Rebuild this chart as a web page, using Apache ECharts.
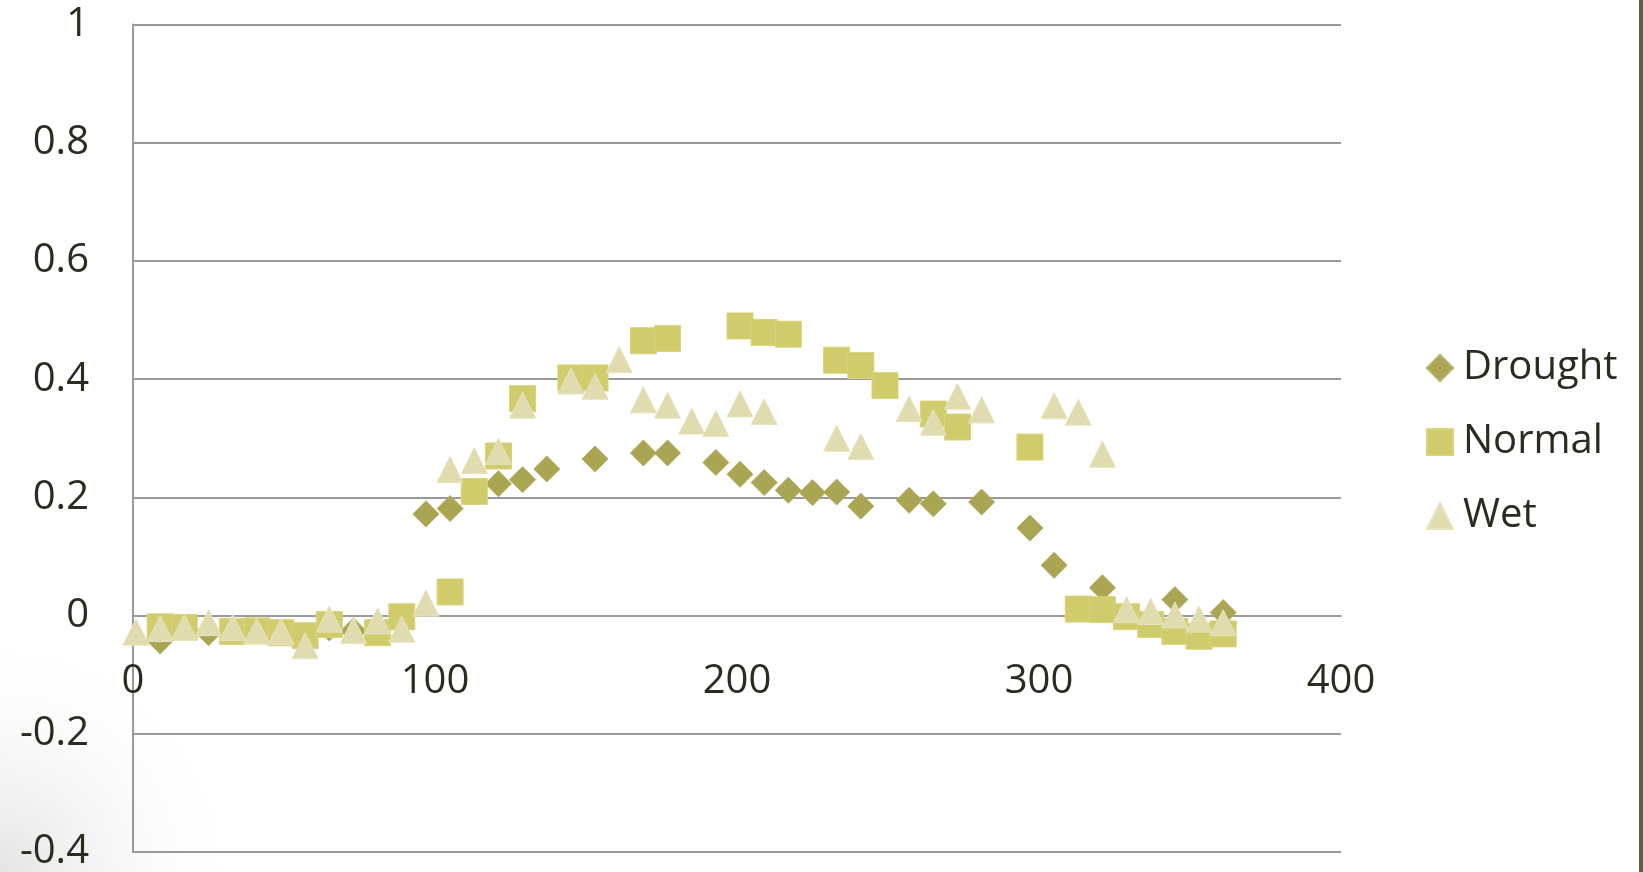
<!DOCTYPE html>
<html>
<head>
<meta charset="utf-8">
<script src="https://cdn.jsdelivr.net/npm/echarts@6/dist/echarts.min.js"></script>
<style>
html,body{margin:0;padding:0;background:#fff;}
#chart{width:1643px;height:872px;}
</style>
</head>
<body>
<div id="chart"></div>
<script>
// ---- Data (day of year, value) ----
var droughtDays = [9, 25, 65, 73, 97, 105, 113, 121, 129, 137, 153, 169, 177, 193, 201, 209, 217, 225, 233, 241, 257, 265, 281, 297, 305, 321, 345, 361];
var droughtValues = [-0.043, -0.029, -0.021, -0.026, 0.172, 0.181, 0.210, 0.223, 0.230, 0.248, 0.265, 0.275, 0.275, 0.259, 0.239, 0.225, 0.212, 0.208, 0.209, 0.185, 0.195, 0.189, 0.192, 0.148, 0.085, 0.047, 0.027, 0.005];

var normalDays = [9, 17, 33, 41, 49, 57, 65, 81, 89, 105, 113, 121, 129, 145, 153, 169, 177, 201, 209, 217, 233, 241, 249, 265, 273, 297, 313, 321, 329, 337, 345, 353, 361];
var normalValues = [-0.019, -0.020, -0.027, -0.026, -0.029, -0.034, -0.015, -0.029, -0.002, 0.040, 0.210, 0.270, 0.367, 0.402, 0.402, 0.465, 0.469, 0.490, 0.479, 0.476, 0.432, 0.423, 0.389, 0.341, 0.319, 0.285, 0.011, 0.010, -0.002, -0.015, -0.027, -0.035, -0.031];

var wetDays = [1, 9, 17, 25, 33, 41, 49, 57, 65, 73, 81, 89, 97, 105, 113, 121, 129, 145, 153, 161, 169, 177, 185, 193, 201, 209, 233, 241, 257, 265, 273, 281, 305, 313, 321, 329, 337, 345, 353, 361];
var wetValues = [-0.028, -0.022, -0.020, -0.012, -0.020, -0.026, -0.027, -0.051, -0.006, -0.025, -0.009, -0.023, 0.021, 0.247, 0.262, 0.278, 0.356, 0.397, 0.388, 0.433, 0.365, 0.356, 0.329, 0.325, 0.358, 0.345, 0.300, 0.286, 0.350, 0.327, 0.371, 0.348, 0.355, 0.344, 0.273, 0.010, 0.007, 0.001, -0.006, -0.012];

var seriesNames = ['Drought', 'Normal', 'Wet'];
var xTicks = [0, 100, 200, 300, 400];
var yTicks = [-0.4, -0.2, 0, 0.2, 0.4, 0.6, 0.8, 1];

function pairs(xs, ys) { return xs.map(function (x, i) { return [x, ys[i]]; }); }

var textColor = '#2d2a22';
var gridColor = '#9a9a9a';
var fontFam = '"Open Sans", "Noto Sans", sans-serif';

var gridTop = 24.5, gridBottom = 20, chartH = 872;
var yMin = yTicks[0], yMax = yTicks[yTicks.length - 1];
var plotH = chartH - gridTop - gridBottom;
// distance from the bottom of the plot to the y = 0 line, so the x axis sits on zero
var zeroOffset = plotH * (0 - yMin) / (yMax - yMin);

var chart = echarts.init(document.getElementById('chart'), null, {renderer: 'canvas'});
chart.setOption({
  animation: false,
  backgroundColor: '#ffffff',
  graphic: [
    {
      type: 'rect', z: -10, silent: true,
      shape: {x: 0, y: 620, width: 260, height: 252},
      style: {
        fill: new echarts.graphic.RadialGradient(0, 1, 1, [
          {offset: 0, color: 'rgba(205,205,205,0.55)'},
          {offset: 1, color: 'rgba(255,255,255,0)'}
        ])
      }
    },
    {
      type: 'rect', z: 100, silent: true,
      shape: {x: 1639, y: 0, width: 4, height: 872},
      style: {fill: '#625a45'}
    }
  ],
  grid: {left: 133, right: 302, top: gridTop, bottom: gridBottom, containLabel: false, outerBoundsMode: 'none'},
  legend: {
    orient: 'vertical',
    left: 1421,
    top: 343,
    itemWidth: 26,
    itemHeight: 26,
    itemGap: 34,
    data: seriesNames,
    textStyle: {fontFamily: fontFam, fontSize: 40, color: textColor, lineHeight: 40, padding: [0, 0, 0, 5]}
  },
  xAxis: {
    type: 'value',
    min: xTicks[0],
    max: xTicks[xTicks.length - 1],
    interval: 100,
    offset: -zeroOffset,
    axisLine: {show: true, onZero: false, lineStyle: {color: gridColor, width: 2}},
    axisTick: {show: false},
    splitLine: {show: false},
    axisLabel: {fontFamily: fontFam, fontSize: 40, color: textColor, margin: 46}
  },
  yAxis: {
    type: 'value',
    min: yMin,
    max: yMax,
    interval: 0.2,
    axisLine: {show: true, onZero: false, lineStyle: {color: gridColor, width: 2}},
    axisTick: {show: false},
    splitLine: {show: true, lineStyle: {color: gridColor, width: 2}},
    axisLabel: {
      fontFamily: fontFam, fontSize: 40, color: textColor, margin: 44,
      formatter: function (v) { return String(Math.round(v * 10) / 10); }
    }
  },
  series: [
    {
      name: seriesNames[0], type: 'scatter', symbol: 'diamond', symbolSize: 26,
      itemStyle: {color: '#aaa553', borderColor: '#b3ae60', borderWidth: 1, opacity: 1},
      data: pairs(droughtDays, droughtValues), z: 3
    },
    {
      name: seriesNames[1], type: 'scatter', symbol: 'rect', symbolSize: 26,
      itemStyle: {color: '#d0cb6b', borderColor: '#d8d47c', borderWidth: 1, opacity: 1},
      data: pairs(normalDays, normalValues), z: 4
    },
    {
      name: seriesNames[2], type: 'scatter', symbol: 'triangle', symbolSize: 26,
      itemStyle: {color: '#e0dcaf', borderColor: '#e6e3bd', borderWidth: 1, opacity: 1},
      data: pairs(wetDays, wetValues), z: 5
    }
  ]
});
</script>
</body>
</html>
